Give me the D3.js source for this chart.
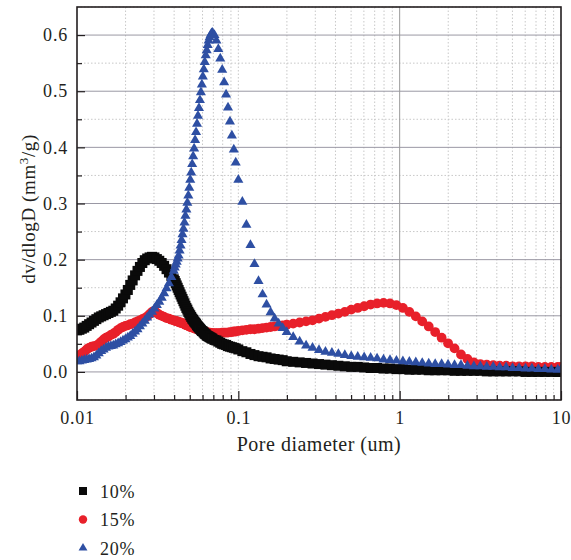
<!DOCTYPE html>
<html>
<head>
<meta charset="utf-8">
<script src="https://cdn.jsdelivr.net/npm/d3@7"></script>
<style>
  body { margin: 0; background: #fff; }
  text { font-family: "Liberation Serif", "Times New Roman", serif; fill: #231f20; }
</style>
</head>
<body>
<svg width="571" height="560"></svg>
<script>
// pore diameter (um), shared by all three series
var diameters = [
  0.010000, 0.010351, 0.010715, 0.011092, 0.011482, 0.011885, 0.012303, 0.012735, 0.013183, 0.013646,
  0.014125, 0.014622, 0.015136, 0.015668, 0.016218, 0.016788, 0.017378, 0.017989, 0.018621, 0.019275,
  0.019953, 0.020654, 0.021380, 0.022131, 0.022909, 0.023714, 0.024547, 0.025410, 0.026303, 0.027227,
  0.028184, 0.029174, 0.030200, 0.031261, 0.032359, 0.033497, 0.034674, 0.035892, 0.037154, 0.038459,
  0.039811, 0.040365, 0.040926, 0.041495, 0.042073, 0.042658, 0.043251, 0.043853, 0.044463, 0.045082,
  0.045709, 0.046345, 0.046989, 0.047643, 0.048306, 0.048978, 0.049659, 0.050350, 0.051050, 0.051761,
  0.052481, 0.053211, 0.053951, 0.054702, 0.055463, 0.056234, 0.057016, 0.057810, 0.058614, 0.059429,
  0.060256, 0.061094, 0.061944, 0.062806, 0.063680, 0.064565, 0.065464, 0.066374, 0.067298, 0.068234,
  0.069183,
  0.071121, 0.073114, 0.075162, 0.077268, 0.079433, 0.081658, 0.083946, 0.086298, 0.088716, 0.091201,
  0.093756, 0.096383,
  0.1000, 0.1059, 0.1122, 0.1189, 0.1259, 0.1334, 0.1413, 0.1496, 0.1585, 0.1679, 0.1778, 0.1884,
  0.1995, 0.2188, 0.2399, 0.2630, 0.2884, 0.3162, 0.3467, 0.3802, 0.4169, 0.4571,
  0.5012, 0.5495, 0.6026, 0.6607, 0.7244, 0.7943, 0.8710, 0.9550, 1.047, 1.148,
  1.259, 1.380, 1.514, 1.660, 1.820, 1.995, 2.188, 2.399, 2.630, 2.884,
  3.162, 3.467, 3.802, 4.169, 4.571, 5.012, 5.495, 6.026, 6.607, 7.244,
  7.943, 8.710, 9.550, 10.00
];

var series10 = [
  0.074, 0.075, 0.077, 0.079, 0.082, 0.085, 0.088, 0.091, 0.094, 0.097,
  0.099, 0.101, 0.103, 0.105, 0.107, 0.109, 0.113, 0.118, 0.124, 0.131,
  0.138, 0.146, 0.155, 0.163, 0.172, 0.180, 0.187, 0.194, 0.199, 0.202,
  0.204, 0.205, 0.204, 0.201, 0.198, 0.194, 0.189, 0.183, 0.177, 0.171,
  0.165, 0.162, 0.158, 0.154, 0.150, 0.146, 0.142, 0.138, 0.134, 0.130,
  0.126, 0.122, 0.118, 0.114, 0.111, 0.107, 0.104, 0.101, 0.098, 0.095,
  0.093, 0.090, 0.088, 0.086, 0.083, 0.081, 0.079, 0.077, 0.075, 0.073,
  0.072, 0.070, 0.068, 0.067, 0.065, 0.064, 0.063, 0.062, 0.061, 0.060,
  0.059,
  0.057, 0.056, 0.054, 0.052, 0.050, 0.049, 0.048, 0.046, 0.045, 0.044,
  0.043, 0.042,
  0.040, 0.037, 0.035, 0.032, 0.030, 0.028, 0.027, 0.026, 0.024, 0.023, 0.022, 0.021,
  0.019, 0.018, 0.017, 0.016, 0.015, 0.014, 0.013, 0.012, 0.011, 0.010,
  0.009, 0.009, 0.008, 0.007, 0.007, 0.006, 0.006, 0.005, 0.005, 0.004,
  0.004, 0.004, 0.003, 0.003, 0.003, 0.003, 0.002, 0.002, 0.002, 0.002,
  0.002, 0.001, 0.001, 0.001, 0.001, 0.001, 0.001, 0.000, 0.000, 0.000,
  0.000, 0.000, 0.000, 0.000
];

var series15 = [
  0.028, 0.030, 0.033, 0.036, 0.040, 0.043, 0.045, 0.046, 0.047, 0.050,
  0.054, 0.058, 0.061, 0.063, 0.066, 0.068, 0.071, 0.075, 0.078, 0.080,
  0.082, 0.083, 0.085, 0.086, 0.088, 0.090, 0.092, 0.094, 0.096, 0.099,
  0.103, 0.107, 0.109, 0.105, 0.102, 0.100, 0.098, 0.096, 0.095, 0.093,
  0.092, 0.091, 0.091, 0.090, 0.090, 0.089, 0.088, 0.088, 0.087, 0.087,
  0.086, 0.085, 0.084, 0.083, 0.083, 0.082, 0.081, 0.080, 0.080, 0.079,
  0.079, 0.078, 0.077, 0.077, 0.076, 0.076, 0.075, 0.075, 0.074, 0.073,
  0.073, 0.072, 0.072, 0.071, 0.071, 0.070, 0.070, 0.070, 0.069, 0.069,
  0.069,
  0.069, 0.069, 0.069, 0.069, 0.070, 0.070, 0.070, 0.070, 0.071, 0.071,
  0.072, 0.072,
  0.073, 0.074, 0.075, 0.076, 0.076, 0.077, 0.078, 0.079, 0.080, 0.081, 0.082, 0.083,
  0.084, 0.086, 0.088, 0.090, 0.092, 0.095, 0.098, 0.101, 0.104, 0.107,
  0.111, 0.114, 0.117, 0.120, 0.122, 0.123, 0.122, 0.119, 0.114, 0.107,
  0.099, 0.090, 0.081, 0.071, 0.061, 0.051, 0.042, 0.031, 0.023, 0.017,
  0.014, 0.013, 0.012, 0.011, 0.011, 0.010, 0.010, 0.010, 0.010, 0.009,
  0.009, 0.009, 0.009, 0.009
];

var series20 = [
  0.019, 0.019, 0.020, 0.021, 0.022, 0.023, 0.024, 0.026, 0.029, 0.033,
  0.037, 0.040, 0.043, 0.045, 0.046, 0.047, 0.049, 0.051, 0.053, 0.056,
  0.058, 0.061, 0.064, 0.068, 0.072, 0.076, 0.081, 0.086, 0.091, 0.097,
  0.102, 0.107, 0.113, 0.119, 0.125, 0.132, 0.140, 0.149, 0.158, 0.169,
  0.180, 0.186, 0.191, 0.196, 0.202, 0.207, 0.216, 0.225, 0.235, 0.245,
  0.255, 0.266, 0.278, 0.289, 0.301, 0.314, 0.328, 0.342, 0.355, 0.370,
  0.384, 0.398, 0.413, 0.427, 0.442, 0.456, 0.470, 0.484, 0.498, 0.512,
  0.526, 0.539, 0.552, 0.564, 0.573, 0.582, 0.590, 0.596, 0.600, 0.603,
  0.604,
  0.600, 0.590, 0.575, 0.558, 0.538, 0.516, 0.494, 0.471, 0.446, 0.421,
  0.396, 0.373,
  0.342, 0.303, 0.262, 0.226, 0.192, 0.162, 0.138, 0.120, 0.106, 0.095, 0.086, 0.078,
  0.071, 0.062, 0.054, 0.047, 0.043, 0.039, 0.036, 0.034, 0.032, 0.030,
  0.028, 0.027, 0.026, 0.025, 0.024, 0.022, 0.021, 0.020, 0.019, 0.018,
  0.017, 0.016, 0.015, 0.014, 0.014, 0.013, 0.012, 0.012, 0.011, 0.010,
  0.010, 0.009, 0.009, 0.008, 0.008, 0.007, 0.007, 0.006, 0.006, 0.005,
  0.005, 0.004, 0.004, 0.004
];

var seriesNames = ["10%", "15%", "20%"];
var xMajorTicks = [0.01, 0.1, 1, 10];
var yMajorTicks = [0.0, 0.1, 0.2, 0.3, 0.4, 0.5, 0.6];
var yMinorTicks = [-0.05, 0.05, 0.15, 0.25, 0.35, 0.45, 0.55, 0.65];

var svg = d3.select("svg");
var margin = {left: 77, top: 7, right: 10, bottom: 160};
var width = +svg.attr("width") - margin.left - margin.right;
var height = +svg.attr("height") - margin.top - margin.bottom;

var x = d3.scaleLog().domain([0.01, 10]).range([0, width]);
var y = d3.scaleLinear().domain([-0.05, 0.65]).range([height, 0]);

var xMinorTicks = [];
[0.01, 0.1, 1].forEach(function(dec) {
  for (var k = 2; k <= 9; k++) xMinorTicks.push(dec * k);
});

var g = svg.append("g").attr("transform", "translate(" + margin.left + "," + margin.top + ")");

g.append("clipPath").attr("id", "plot-clip")
  .append("rect").attr("width", width).attr("height", height);

// grid
var grid = g.append("g").attr("class", "grid");
grid.selectAll(".ygrid-minor").data(yMinorTicks).enter().append("line")
  .attr("x1", 0).attr("x2", width)
  .attr("y1", function(d) { return y(d); }).attr("y2", function(d) { return y(d); })
  .attr("stroke", "#c8c8c8").attr("stroke-width", 1).attr("stroke-dasharray", "1.5,2");
grid.selectAll(".xgrid-minor").data(xMinorTicks.concat([0.1])).enter().append("line")
  .attr("y1", 0).attr("y2", height)
  .attr("x1", function(d) { return x(d); }).attr("x2", function(d) { return x(d); })
  .attr("stroke", "#c8c8c8").attr("stroke-width", 1).attr("stroke-dasharray", "1.5,2");
grid.selectAll(".ygrid").data(yMajorTicks).enter().append("line")
  .attr("x1", 0).attr("x2", width)
  .attr("y1", function(d) { return y(d); }).attr("y2", function(d) { return y(d); })
  .attr("stroke", "#9a98a4").attr("stroke-width", 1);
grid.append("line")
  .attr("x1", x(1)).attr("x2", x(1)).attr("y1", 0).attr("y2", height)
  .attr("stroke", "#9a9a9a").attr("stroke-width", 1);

// series
var colors = ["#0a0a0a", "#e8202a", "#2e4fa3"];
var plot = g.append("g").attr("clip-path", "url(#plot-clip)");

function points(vals) {
  return diameters.map(function(d, i) { return {d: d, v: vals[i]}; });
}

plot.append("g").selectAll("circle").data(points(series15)).enter().append("circle")
  .attr("cx", function(p) { return x(p.d); })
  .attr("cy", function(p) { return y(p.v); })
  .attr("r", 4.9)
  .attr("fill", colors[1]);

plot.append("g").selectAll("rect").data(points(series10)).enter().append("rect")
  .attr("x", function(p) { return x(p.d) - 5; })
  .attr("y", function(p) { return y(p.v) - 5; })
  .attr("width", 10).attr("height", 10)
  .attr("fill", colors[0]);

var tri = d3.symbol().type(d3.symbolTriangle).size(44);
plot.append("g").selectAll("path").data(points(series20)).enter().append("path")
  .attr("d", tri)
  .attr("transform", function(p) { return "translate(" + x(p.d) + "," + y(p.v) + ")"; })
  .attr("fill", colors[2]);

// axes (ticks inward)
var fmt = function(d) { return String(d); };
g.append("g").attr("transform", "translate(0," + height + ")")
  .call(d3.axisBottom(x).tickValues(xMajorTicks).tickFormat(fmt).tickSize(-9).tickPadding(11));
g.append("g").attr("transform", "translate(0," + height + ")")
  .call(d3.axisBottom(x).tickValues(xMinorTicks).tickFormat("").tickSize(-5));
g.append("g")
  .call(d3.axisLeft(y).tickValues(yMajorTicks).tickFormat(d3.format(".1f")).tickSize(-8).tickPadding(9));
g.append("g")
  .call(d3.axisLeft(y).tickValues(yMinorTicks.slice(1, -1)).tickFormat("").tickSize(-5));

g.selectAll(".domain").remove();
g.selectAll(".tick line").attr("stroke", "#231f20").attr("stroke-width", 1.2);
g.selectAll(".tick text").attr("font-size", 18).attr("letter-spacing", 0.8)
  .attr("font-family", "Liberation Serif, serif").attr("fill", "#231f20");

g.append("rect").attr("width", width).attr("height", height)
  .attr("fill", "none").attr("stroke", "#231f20").attr("stroke-width", 1.6);

// axis titles
g.append("text")
  .attr("x", width / 2).attr("y", height + 51)
  .attr("text-anchor", "middle").attr("font-size", 20).attr("letter-spacing", 0.5)
  .text("Pore diameter (um)");

var yl = svg.append("text")
  .attr("transform", "translate(35,209) rotate(-90)")
  .attr("text-anchor", "middle").attr("font-size", 19).attr("letter-spacing", 0.6);
yl.append("tspan").text("dv/dlogD (mm");
yl.append("tspan").attr("font-size", 13).attr("baseline-shift", "super").text("3");
yl.append("tspan").text("/g)");

// legend
var legend = svg.append("g").attr("transform", "translate(83,491)");
var item = legend.selectAll("g").data(seriesNames).enter().append("g")
  .attr("transform", function(d, i) { return "translate(0," + (i * 28.5) + ")"; });
item.each(function(d, i) {
  var s = d3.select(this);
  if (i === 0) s.append("rect").attr("x", -4).attr("y", -4).attr("width", 8).attr("height", 8).attr("fill", colors[0]);
  if (i === 1) s.append("circle").attr("r", 4.2).attr("fill", colors[1]);
  if (i === 2) s.append("path").attr("d", d3.symbol().type(d3.symbolTriangle).size(34)).attr("fill", colors[2]);
});
item.append("text").attr("x", 17).attr("y", 6.5)
  .attr("font-size", 18).attr("letter-spacing", 0.8)
  .text(function(d) { return d; });
</script>
</body>
</html>
